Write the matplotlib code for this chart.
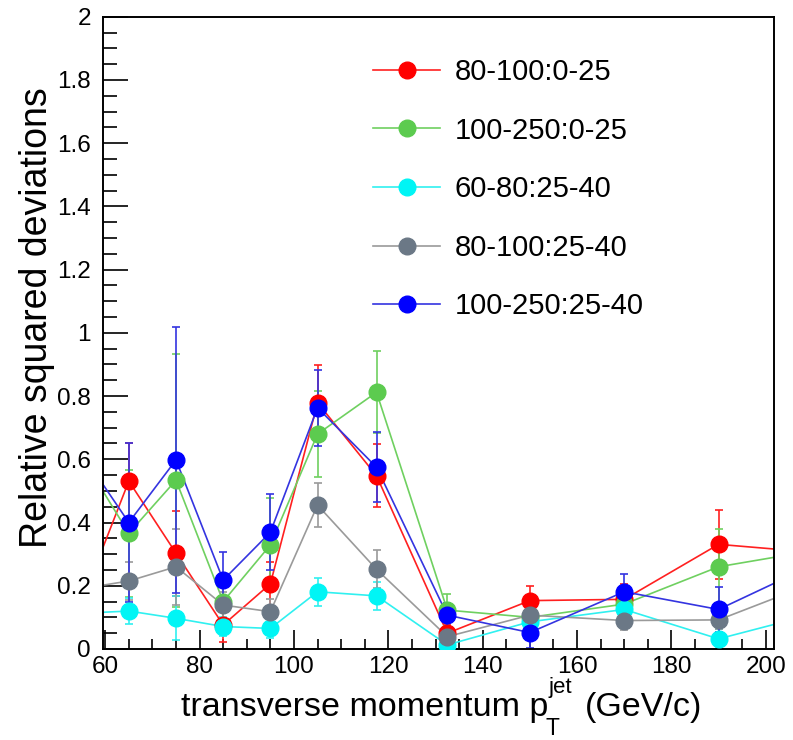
import matplotlib
matplotlib.use("Agg")
import matplotlib.pyplot as plt
from matplotlib.ticker import MultipleLocator, FormatStrFormatter
from matplotlib.lines import Line2D

plt.rcParams['font.family'] = ['Liberation Sans', 'DejaVu Sans']

# bin centres in jet pT (first and last bins fall outside the shown range)
pt = [55, 65, 75, 85, 95, 105, 117.5, 132.5, 150, 170, 190, 225]

red_y = [0.148, 0.531, 0.303, 0.076, 0.206, 0.779, 0.548, 0.050, 0.153, 0.157, 0.331, 0.287]
red_err = [0.05, 0.12, 0.135, 0.055, 0.07, 0.12, 0.10, 0.03, 0.045, 0.05, 0.11, 0.10]

green_y = [0.609, 0.366, 0.534, 0.150, 0.329, 0.680, 0.812, 0.123, 0.100, 0.142, 0.260, 0.349]
green_err = [0.10, 0.20, 0.40, 0.08, 0.15, 0.135, 0.13, 0.05, 0.03, 0.04, 0.12, 0.10]

cyan_y = [0.113, 0.120, 0.097, 0.071, 0.065, 0.181, 0.168, 0.013, 0.086, 0.125, 0.032, 0.168]
cyan_err = [0.03, 0.04, 0.07, 0.03, 0.03, 0.045, 0.045, 0.02, 0.02, 0.03, 0.03, 0.05]

gray_y = [0.191, 0.215, 0.260, 0.139, 0.118, 0.455, 0.252, 0.039, 0.107, 0.090, 0.092, 0.294]
gray_err = [0.05, 0.06, 0.12, 0.04, 0.04, 0.07, 0.06, 0.02, 0.03, 0.03, 0.03, 0.05]

blue_y = [0.620, 0.400, 0.598, 0.218, 0.369, 0.763, 0.575, 0.107, 0.052, 0.181, 0.125, 0.371]
blue_err = [0.15, 0.25, 0.42, 0.09, 0.12, 0.12, 0.11, 0.04, 0.05, 0.055, 0.07, 0.10]

labels = ["80-100:0-25", "100-250:0-25", "60-80:25-40", "80-100:25-40", "100-250:25-40"]
colors = ["#ff0000", "#5ccb4f", "#00f5f5", "#6b7886", "#0000ff"]
line_colors = ["#ff2020", "#6fd060", "#30f0f0", "#9a9a9a", "#3434e0"]

series = [(red_y, red_err), (green_y, green_err), (cyan_y, cyan_err),
          (gray_y, gray_err), (blue_y, blue_err)]

W, H = 793, 740
fig = plt.figure(figsize=(W / 100, H / 100), dpi=100)
ax = fig.add_axes([0.1303, 0.1230, 0.8461, 0.8544])

handles = []
for (yv, ye), c, lc, lab in zip(series, colors, line_colors, labels):
    ax.plot(pt, yv, color=lc, lw=1.2, zorder=2)
    ax.errorbar(pt, yv, yerr=ye, fmt='none', ecolor=lc, elinewidth=1.2,
                capsize=3, capthick=1.2, zorder=2)
    ax.plot(pt, yv, 'o', color=c, ms=12, mec=c, zorder=3)
    handles.append(Line2D([], [], color=lc, lw=1.2, marker='o', ms=12,
                          mfc=c, mec=c, label=lab))

ax.set_xlim(59.6, 201.8)
ax.set_ylim(0, 2)

ax.xaxis.set_major_locator(MultipleLocator(20))
ax.xaxis.set_minor_locator(MultipleLocator(5))
ax.yaxis.set_major_locator(MultipleLocator(0.2))
ax.yaxis.set_minor_locator(MultipleLocator(0.05))
ax.yaxis.set_major_formatter(FormatStrFormatter('%g'))

ax.tick_params(which='both', direction='in', top=False, right=False,
               labelsize=17.5, width=1.2, color='black')
ax.tick_params(axis='x', which='major', length=14, pad=5)
ax.tick_params(axis='x', which='minor', length=7)
ax.tick_params(axis='y', which='major', length=18, pad=9)
ax.tick_params(axis='y', which='minor', length=10)
for sp in ax.spines.values():
    sp.set_linewidth(1.4)

ax.set_ylabel("Relative squared deviations", fontsize=27)
ax.yaxis.set_label_coords(-0.072, 0.524)

# x title built from pieces so that the pT sub/superscripts stack like in ROOT
def px(x, y):
    return x / W, 1 - y / H

fig.text(*px(548, 716), "transverse momentum p", fontsize=24.5, ha='right', va='baseline')
fig.text(*px(549, 693), "jet", fontsize=16, ha='left', va='baseline')
fig.text(*px(545, 735), "T", fontsize=16.5, ha='left', va='baseline')
fig.text(*px(585, 716), "(GeV/c)", fontsize=24.5, ha='left', va='baseline')

ax.legend(handles=handles, loc='upper left', bbox_to_anchor=px(373, 58),
          bbox_transform=fig.transFigure, borderaxespad=0, borderpad=0,
          frameon=False, fontsize=21, handlelength=2.3, handletextpad=0.5,
          labelspacing=1.05, numpoints=1)

fig.savefig("out.png", dpi=100, facecolor='white')
